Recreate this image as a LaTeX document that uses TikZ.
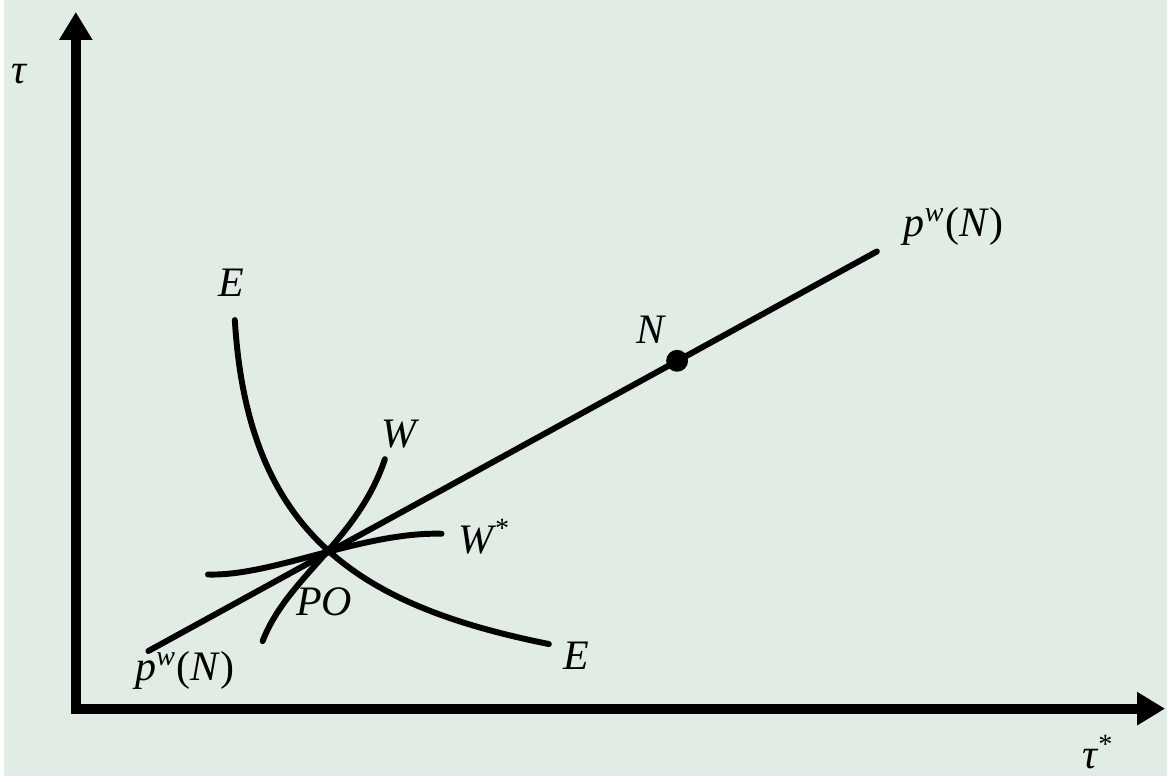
\documentclass[tikz,border=0pt]{standalone}
\usepackage{fontspec}
\setmainfont{Liberation Serif}
\usetikzlibrary{arrows.meta}
\definecolor{paper}{RGB}{224,236,228}
\begin{document}
\begin{tikzpicture}[x=0.01cm, y=-0.01cm, line cap=round, line join=round,
  font=\fontsize{12}{14}\selectfont\itshape,
  axis/.style={line width=2.8pt, line cap=rect, -{Triangle[width=9pt,length=8pt]}},
  curve/.style={line width=1.7pt}]
\fill[paper] (0,0) rectangle (1170,781);
% axes
\coordinate (O) at (72,713);
\coordinate (xend) at (1168,713);
\coordinate (yend) at (72,12);
\draw[axis] (O) -- (yend);
\draw[axis] (O) -- (xend);
\node (tau) at (15,75) {τ};
\node (taus) at (1100,757) {τ\textsuperscript{*}};
% budget line through PO and N
\coordinate (PO) at (321,554);
\coordinate (A) at (145,655);
\coordinate (B) at (878,253);
\draw[curve] (A) -- (B);
\fill (677,363) circle (11);
\node (N) at (650,332) {N};
% curves through PO
\draw[curve] (232,322) .. controls (245,540) and (360,610) .. (548,648);
\draw[curve] (260,645) .. controls (285,580) and (355,545) .. (383,462);
\draw[curve] (205,578) .. controls (270,580) and (360,535) .. (440,537);
\foreach \p/\lbl/\nm in {(228,284)/E/Et, (576,660)/E/Eb, (397,437)/W/W,
  (483,540)/W\textsuperscript{*}/Ws, (322,605)/PO/POl}
  \node (\nm) at \p {\lbl};
\node (pt) at (955,228) {p\textsuperscript{w}\textup{(}N\textup{)}};
\node (pb) at (182,675) {p\textsuperscript{w}\textup{(}N\textup{)}};
\end{tikzpicture}
\end{document}
